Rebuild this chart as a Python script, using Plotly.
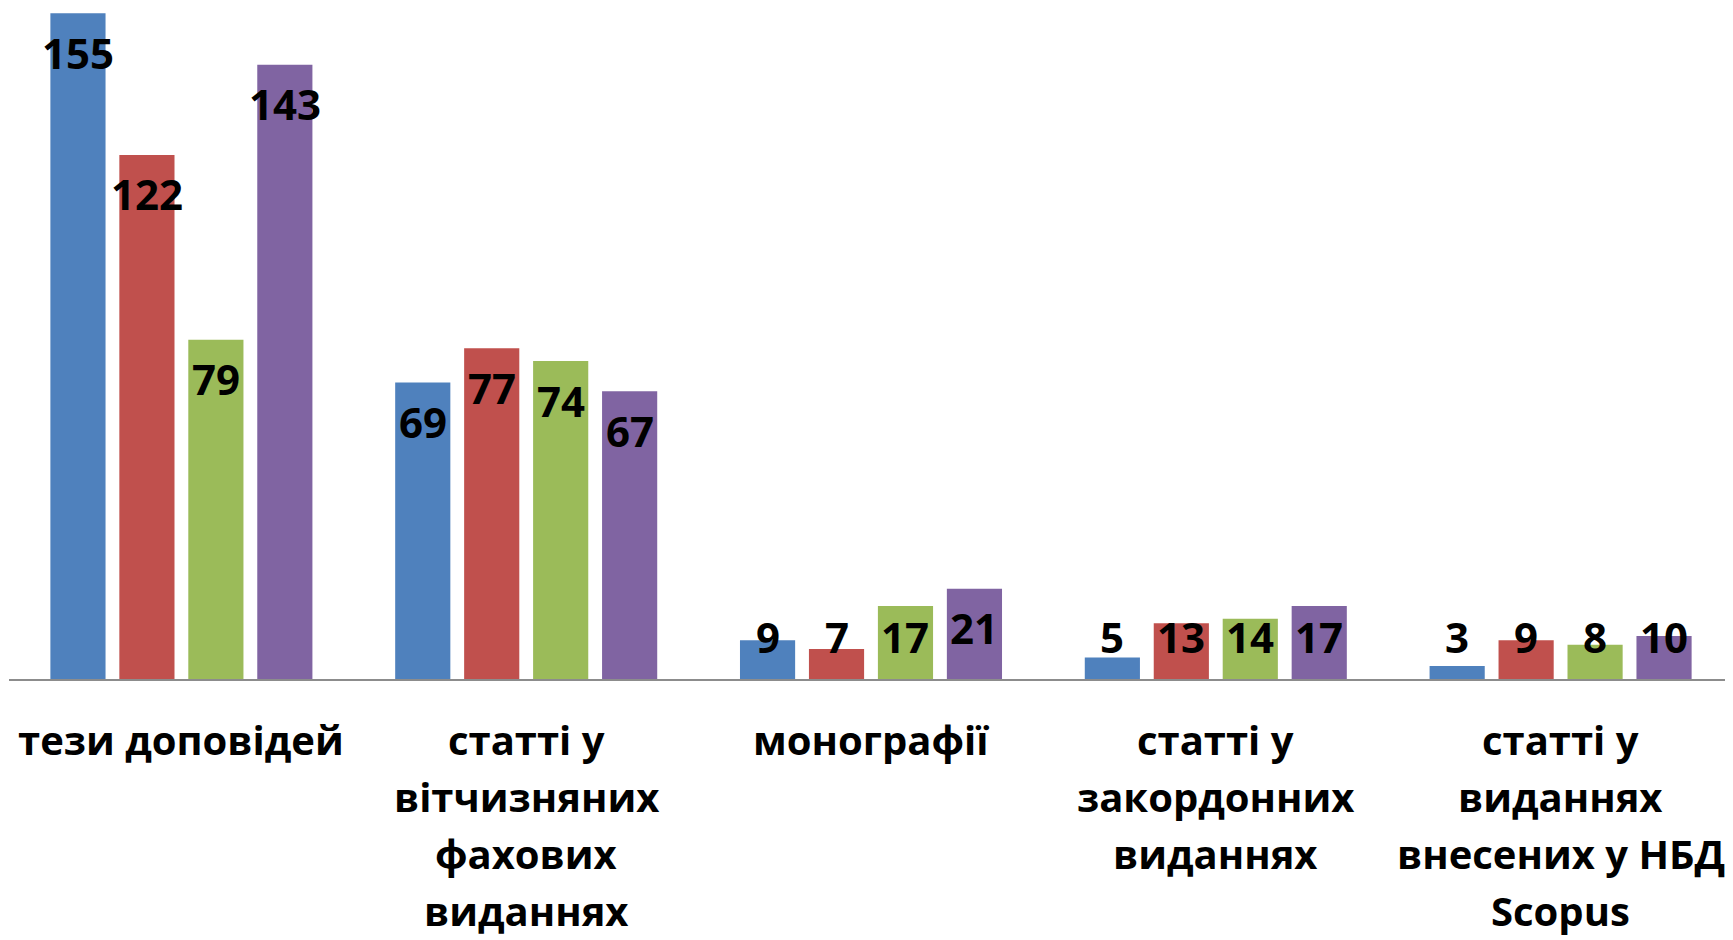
import plotly.graph_objects as go

categories = [
    "тези доповідей",
    "статті у вітчизняних фахових виданнях",
    "монографії",
    "статті у закордонних виданнях",
    "статті у виданнях внесених у НБД Scopus",
]
category_lines = [
    ["тези доповідей"],
    ["статті у", "вітчизняних", "фахових", "виданнях"],
    ["монографії"],
    ["статті у", "закордонних", "виданнях"],
    ["статті у", "виданнях", "внесених у НБД", "Scopus"],
]
series_names = ["Ряд 1", "Ряд 2", "Ряд 3", "Ряд 4"]
series_values = [
    [155, 69, 9, 5, 3],
    [122, 77, 7, 13, 9],
    [79, 74, 17, 14, 8],
    [143, 67, 21, 17, 10],
]
colors = ["#4F81BD", "#C0504D", "#9BBB59", "#8064A2"]

# page has an 8px body margin; figure is sized to fit the window
W, H = 1725, 932
M_L, M_R, M_T, M_B = 1, 0, 0, 261
Y_MAX = 156.2
plot_h = H - M_T - M_B
px_per_unit = plot_h / Y_MAX

fig = go.Figure()
for name, vals, col in zip(series_names, series_values, colors):
    fig.add_trace(go.Bar(x=categories, y=vals, name=name,
                         marker=dict(color=col, line=dict(width=0)),
                         textposition="none"))

font_family = "Open Sans"
n = len(series_values)
slot = 0.8 / n
label_off = 39 / px_per_unit
label_min = 43 / px_per_unit
for j, vals in enumerate(series_values):
    for i, v in enumerate(vals):
        fig.add_annotation(
            x=i + (j - (n - 1) / 2) * slot, y=max(v - label_off, label_min),
            xref="x", yref="y", text=f"<b>{v}</b>", showarrow=False,
            yanchor="middle", xanchor="center",
            font=dict(family=font_family, size=42, color="black"),
        )

# category labels, line by line (Excel-like line spacing)
first_line = 60
line_step = 57
for i, lines in enumerate(category_lines):
    for k, line in enumerate(lines):
        fig.add_annotation(
            x=i, y=0, xref="x", yref="paper", text=f"<b>{line}</b>",
            showarrow=False, xanchor="center", yanchor="middle",
            yshift=-(first_line + k * line_step),
            font=dict(family=font_family, size=40, color="black"),
        )

fig.update_layout(
    width=W, height=H,
    margin=dict(l=M_L, r=M_R, t=M_T, b=M_B),
    barmode="group", bargap=0.2, bargroupgap=0.2,
    showlegend=False,
    plot_bgcolor="white", paper_bgcolor="white",
    font=dict(family=font_family, color="black"),
)
fig.update_xaxes(
    type="category",
    showline=True, linecolor="#8C8C8C", linewidth=2,
    showgrid=False, ticks="", showticklabels=False,
)
fig.update_yaxes(range=[0, Y_MAX], visible=False)

fig.write_html("out.html")
